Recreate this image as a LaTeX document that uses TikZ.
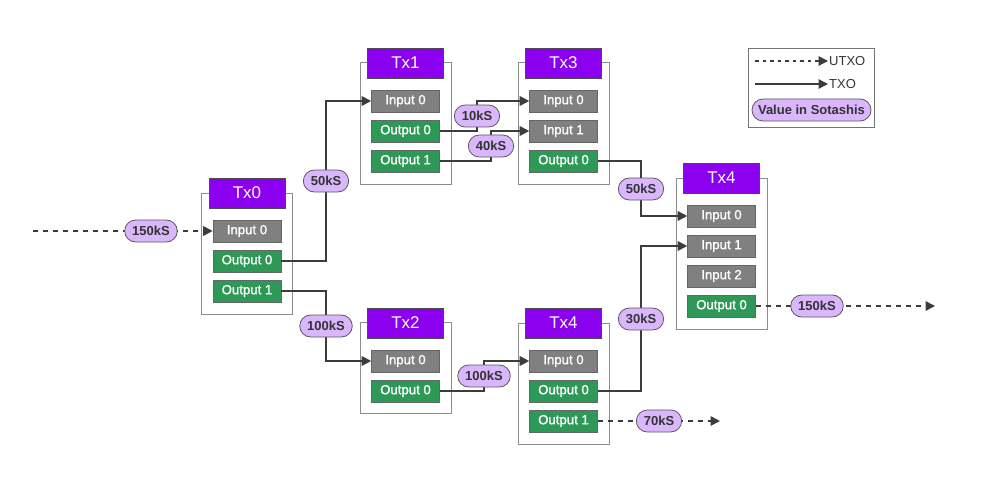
\documentclass[tikz,border=0pt]{standalone}
\usepackage{fontspec}
\setmainfont{Liberation Sans}
\newfontfamily\medfont{Liberation Sans}[FakeBold=1.5]
\usetikzlibrary{arrows.meta}
\definecolor{hdr}{RGB}{140,0,240}
\definecolor{infill}{RGB}{128,128,128}
\definecolor{outfill}{RGB}{46,152,86}
\definecolor{pillfill}{RGB}{218,182,252}
\definecolor{linec}{RGB}{60,60,60}
\tikzset{
  txbox/.style={draw=black!45, line width=1pt, fill=white, minimum width=91pt, inner sep=0pt},
  header/.style={draw=black!70, line width=0.6pt, fill=hdr, text=white, minimum width=76pt, minimum height=30pt, inner sep=0pt, font=\fontsize{17}{19}\selectfont},
  field/.style={draw=black!60, line width=0.6pt, minimum width=68pt, minimum height=22pt, inner sep=0pt, text=white, font=\medfont\fontsize{13.2}{15}\selectfont},
  infield/.style={field, fill=infill},
  outfield/.style={field, fill=outfill},
  pill/.style={draw=black!65, line width=0.8pt, fill=pillfill, rounded corners=11pt, minimum height=22pt, inner xsep=7.5pt, inner ysep=0pt, text=black!80, font=\fontsize{13}{15}\selectfont\bfseries},
  txo/.style={draw=linec, line width=1.8pt, -{Triangle[length=9.5pt,width=9.5pt]}},
  utxo/.style={txo, dash pattern=on 5pt off 5pt},
  legtext/.style={anchor=west, inner sep=0pt, text=black!80, font=\fontsize{13}{15}\selectfont}
}
\begin{document}
\begin{tikzpicture}[x=1pt,y=-1pt]
\useasboundingbox (0,0) rectangle (1004,484);
% transaction boxes
\node[txbox, minimum height=121pt] (tx0box) at (247,253.5) {};
\node[header] (tx0) at (247,193) {Tx0};
\node[infield] (tx0in0) at (247,231) {Input 0};
\node[outfield] (tx0out0) at (247,261) {Output 0};
\node[outfield] (tx0out1) at (247,291) {Output 1};

\node[txbox, minimum height=121pt] (tx1box) at (405.5,123.5) {};
\node[header] (tx1) at (405.5,63) {Tx1};
\node[infield] (tx1in0) at (405.5,101) {Input 0};
\node[outfield] (tx1out0) at (405.5,131) {Output 0};
\node[outfield] (tx1out1) at (405.5,161) {Output 1};

\node[txbox, minimum height=121pt] (tx3box) at (563.5,123.5) {};
\node[header] (tx3) at (563.5,63) {Tx3};
\node[infield] (tx3in0) at (563.5,101) {Input 0};
\node[infield] (tx3in1) at (563.5,131) {Input 1};
\node[outfield] (tx3out0) at (563.5,161) {Output 0};

\node[txbox, minimum height=91pt] (tx2box) at (405.5,368) {};
\node[header] (tx2) at (405.5,323) {Tx2};
\node[infield] (tx2in0) at (405.5,361) {Input 0};
\node[outfield] (tx2out0) at (405.5,391) {Output 0};

\node[txbox, minimum height=121pt] (tx4bbox) at (563.5,383.5) {};
\node[header] (tx4b) at (563.5,323) {Tx4};
\node[infield] (tx4bin0) at (563.5,361) {Input 0};
\node[outfield] (tx4bout0) at (563.5,391) {Output 0};
\node[outfield] (tx4bout1) at (563.5,421) {Output 1};

\node[txbox, minimum height=151pt] (tx4box) at (721.5,253.5) {};
\node[header] (tx4) at (721.5,178) {Tx4};
\node[infield] (tx4in0) at (721.5,216) {Input 0};
\node[infield] (tx4in1) at (721.5,246) {Input 1};
\node[infield] (tx4in2) at (721.5,276) {Input 2};
\node[outfield] (tx4out0) at (721.5,306) {Output 0};

% pill anchor coordinates
\coordinate (cstart) at (33,231);
\coordinate (c150a) at (151,231);
\coordinate (c50a) at (326,181);
\coordinate (c100a) at (326,326);
\coordinate (c10) at (477,116);
\coordinate (c40) at (491,146);
\coordinate (c50b) at (641,189);
\coordinate (c100b) at (484,376);
\coordinate (c30) at (641,319);
\coordinate (c70) at (659,421);
\coordinate (cend70) at (720,421);
\coordinate (c150b) at (817,306);
\coordinate (cend150) at (935,306);

% connectors
\draw[utxo] (cstart) -- (tx0in0.west);
\draw[txo] (tx0out0.east) -| (c50a) |- (tx1in0.west);
\draw[txo] (tx0out1.east) -| (c100a) |- (tx2in0.west);
\draw[txo] (tx1out0.east) -| (c10) |- (tx3in0.west);
\draw[txo] (tx1out1.east) -| (c40) |- (tx3in1.west);
\draw[txo] (tx3out0.east) -| (c50b) |- (tx4in0.west);
\draw[txo] (tx2out0.east) -| (c100b) |- (tx4bin0.west);
\draw[txo] (tx4bout0.east) -| (c30) |- (tx4in1.west);
\draw[utxo] (tx4bout1.east) -- (cend70);
\draw[utxo] (tx4out0.east) -- (cend150);

% pills
\node[pill] (p150a) at (c150a) {150kS};
\node[pill] (p50a) at (c50a) {50kS};
\node[pill] (p100a) at (c100a) {100kS};
\node[pill] (p10) at (c10) {10kS};
\node[pill] (p40) at (c40) {40kS};
\node[pill] (p50b) at (c50b) {50kS};
\node[pill] (p100b) at (c100b) {100kS};
\node[pill] (p30) at (c30) {30kS};
\node[pill] (p70) at (c70) {70kS};
\node[pill] (p150b) at (c150b) {150kS};

% legend
\node[draw=black!55, line width=0.8pt, minimum width=126pt, minimum height=79pt, inner sep=0pt] (legend) at (811,87.5) {};
\coordinate (lu1) at (755,61);
\coordinate (lu2) at (828,61);
\coordinate (lt1) at (755,84);
\coordinate (lt2) at (828,84);
\draw[utxo, line width=1.3pt, dash pattern=on 3.5pt off 4pt] (lu1) -- (lu2);
\draw[txo, line width=1.3pt] (lt1) -- (lt2);
\node[legtext] (lutxo) at (829,61) {UTXO};
\node[legtext] (ltxo) at (829,84) {TXO};
\node[pill, minimum width=119pt, inner xsep=3pt] (lpill) at (811.5,110) {Value in Sotashis};
\end{tikzpicture}
\end{document}
